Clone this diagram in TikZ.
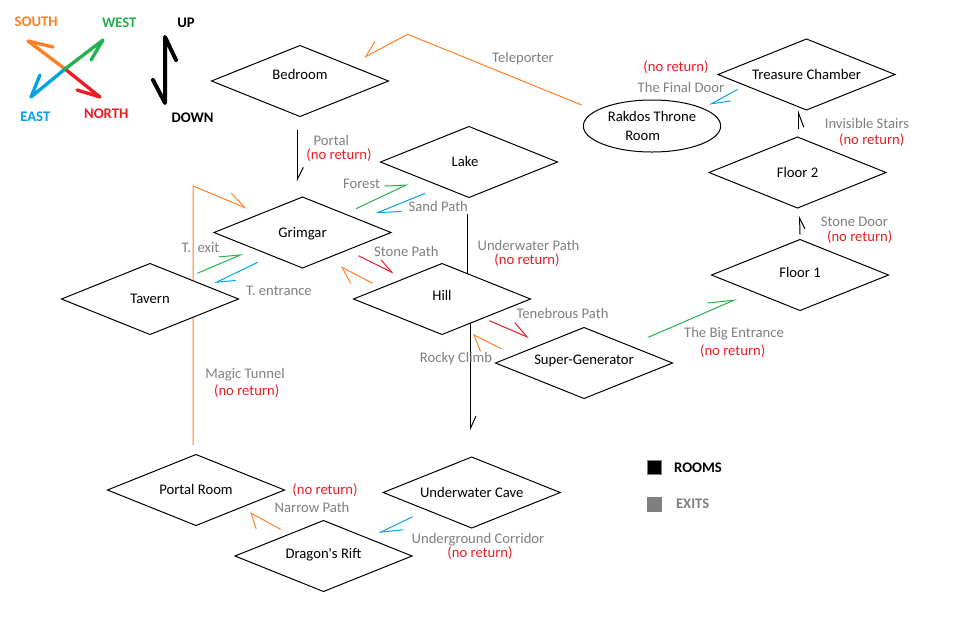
\documentclass[tikz,border=0pt]{standalone}
\usepackage{fontspec}
\setmainfont{Carlito}
% same face without the TeX ligature mapping, for a straight apostrophe
\newfontfamily\plainfont{Carlito}
\usetikzlibrary{shapes.geometric,arrows.meta}
\definecolor{exitorange}{HTML}{FF7F27}
\definecolor{exitgreen}{HTML}{22B14C}
\definecolor{exitblue}{HTML}{00A2E8}
\definecolor{exitred}{HTML}{ED1C24}
\definecolor{exitgray}{HTML}{7F7F7F}
\pgfdeclarelayer{background}
\pgfsetlayers{background,main}
\begin{document}
\begin{tikzpicture}[x=0.75pt,y=-0.75pt,
  font=\fontsize{11}{13.75}\selectfont,
  room/.style={shape=diamond, draw, fill=white, line width=0.75pt, aspect=2.5,
    inner sep=1pt, outer sep=0pt, minimum width=132.75pt, minimum height=53.25pt,
    text height=7pt, text depth=0pt},
  hall/.style={shape=ellipse, draw, fill=white, line width=0.75pt, inner sep=0pt,
    minimum width=103pt, minimum height=39pt, align=center},
  exitlbl/.style={text=exitgray, inner sep=0pt, text height=7pt, text depth=0pt},
  noret/.style={text=exitred, inner sep=0pt, text height=7pt, text depth=0pt},
  link/.style={line width=0.75pt},
  barbL/.style 2 args={-{Straight Barb[harpoon,length=#1,width=#2]}},
  barbR/.style 2 args={-{Straight Barb[harpoon,swap,length=#1,width=#2]}},
  compass/.style={line width=2.5pt, line cap=round, line join=round},
  keytext/.style={font=\fontsize{11}{13}\selectfont\bfseries, inner sep=0pt,
    text height=7pt, text depth=0pt},
]
\useasboundingbox (0,0) rectangle (959,626);

% ---------- compass and up/down key ----------
\draw[compass, exitorange] (65,69) -- (28,41) -- (53,47);
\draw[compass, exitred] (65,69) -- (100,97) -- (77,90);
\draw[compass, exitblue] (65,69) -- (31,97) -- (40,75);
\draw[compass, exitgreen] (65,69) -- (103,40) -- (91,60);
\draw[compass, line width=3pt] (176,60) -- (165,37) -- (165,103) -- (153,80);
\node[keytext, text=exitorange] (south) at (36.2,21.7) {SOUTH};
\node[keytext, text=exitgreen] (west) at (119.2,23.3) {WEST};
\node[keytext] (up) at (186,23.3) {UP};
\node[keytext, text=exitblue] (east) at (35.3,117.3) {EAST};
\node[keytext, text=exitred] (north) at (106.2,114.3) {NORTH};
\node[keytext] (down) at (192.5,118.3) {DOWN};

% ---------- rooms ----------
\node[room] (bedroom) at (300,81) {\raisebox{5pt}{Bedroom}};
\node[room] (lake) at (469,162) {\hspace*{-6pt}Lake};
\node[room] (grimgar) at (302.5,232.5) {Grimgar};
\node[room] (tavern) at (150,299) {Tavern};
\node[room] (hill) at (442,299) {\raisebox{2.5pt}{Hill}};
\node[room] (supergen) at (584,363) {\raisebox{2.5pt}{Super-Generator}};
\node[room] (floor1) at (800,275) {\raisebox{2pt}{Floor 1}};
\node[room] (floor2) at (797.5,172.5) {Floor 2};
\node[room] (treasure) at (806.5,74.5) {Treasure Chamber};
\node[hall] (rakdos) at (652,126) {Rakdos Throne\\Room\hspace*{14pt}};
\node[room] (portalroom) at (196,490) {Portal Room};
\node[room] (uwcave) at (471.7,492.5) {Underwater Cave};
\node[room] (rift) at (323.5,556) {\raisebox{2pt}{Dragon{\plainfont'}s Rift}};

% ---------- exits ----------
\begin{pgfonlayer}{background}
  % Teleporter: Rakdos Throne Room -> Bedroom
  \coordinate (telS) at (581.7,105);
  \coordinate (telK) at (407.7,34.3);
  \coordinate (telT) at (364.3,57.3);
  \draw[link, exitorange, barbR={11.3pt}{13.7pt}] (telS) -- (telK) -- (telT);
  % Portal: Bedroom -> Grimgar
  \coordinate (porS) at (297.3,130);
  \coordinate (porT) at (297.3,181.5);
  \draw[link, barbL={9pt}{9pt}] (porS) -- (porT);
  % Forest / Sand Path: Grimgar <-> Lake
  \coordinate (forS) at (356,208.7);
  \coordinate (forT) at (408.3,184);
  \draw[link, exitgreen, barbL={15pt}{12.5pt}] (forS) -- (forT);
  \coordinate (sanS) at (425,193.3);
  \coordinate (sanT) at (375,213.7);
  \draw[link, exitblue, barbL={17pt}{12pt}] (sanS) -- (sanT);
  % T. exit / T. entrance: Tavern <-> Grimgar
  \coordinate (texS) at (197.3,273.3);
  \coordinate (texT) at (243.3,253.7);
  \draw[link, exitgreen, barbL={15.5pt}{10pt}] (texS) -- (texT);
  \coordinate (tenS) at (257.7,262.3);
  \coordinate (tenT) at (214.3,283.3);
  \draw[link, exitblue, barbL={13.4pt}{10.2pt}] (tenS) -- (tenT);
  % Magic Tunnel: Portal Room -> Tavern -> Grimgar
  \coordinate (magS) at (193,445);
  \coordinate (magK) at (193,186);
  \coordinate (magT) at (246.7,208.3);
  \draw[link, exitorange, barbL={13.4pt}{12.2pt}] (magS) -- (magK) -- (magT);
  % Stone Path: Grimgar <-> Hill
  \coordinate (stoS) at (358.3,255.7);
  \coordinate (stoT) at (394,273.3);
  \draw[link, exitred, barbL={11.3pt}{9.5pt}] (stoS) -- (stoT);
  \coordinate (hgrS) at (372.7,283.3);
  \coordinate (hgrT) at (340.7,266.7);
  \draw[link, exitorange, barbL={11.3pt}{15.3pt}] (hgrS) -- (hgrT);
  % Underwater Path: Lake -> Underwater Cave
  \coordinate (uwpS) at (467.5,214);
  \coordinate (uwpT) at (470.7,430);
  \draw[link, barbL={8.8pt}{8pt}] (uwpS) -- (467.5,299) -- (470.7,299) -- (uwpT);
  % Tenebrous Path / Rocky Climb: Hill <-> Super-Generator
  \coordinate (tebS) at (489.3,320.7);
  \coordinate (tebT) at (529,337.7);
  \draw[link, exitred, barbL={12.8pt}{12.6pt}] (tebS) -- (tebT);
  \coordinate (rocS) at (501.7,349);
  \coordinate (rocT) at (472.7,334.3);
  \draw[link, exitorange, barbL={10pt}{17.4pt}] (rocS) -- (rocT);
  % The Big Entrance: Super-Generator -> Floor 1
  \coordinate (bigS) at (648.3,337.3);
  \coordinate (bigT) at (736.7,299);
  \draw[link, exitgreen, barbL={18.8pt}{11.9pt}] (bigS) -- (bigT);
  % Stone Door: Floor 1 -> Floor 2
  \coordinate (sdoS) at (800,234.3);
  \coordinate (sdoT) at (799.5,216);
  \draw[link, barbR={8pt}{7.5pt}] (sdoS) -- (sdoT);
  % Invisible Stairs: Floor 2 -> Treasure Chamber
  \coordinate (invS) at (798.7,129.3);
  \coordinate (invT) at (798.7,110.7);
  \draw[link, barbR={10.2pt}{7.5pt}] (invS) -- (invT);
  % The Final Door: Treasure Chamber -> Rakdos Throne Room
  \coordinate (finS) at (737.7,89.3);
  \coordinate (finT) at (709.3,105);
  \draw[link, exitblue, barbL={13.4pt}{10.2pt}] (finS) -- (finT);
  % Narrow Path: Dragon's Rift -> Portal Room
  \coordinate (narS) at (280.7,529.3);
  \coordinate (narT) at (250,512.7);
  \draw[link, exitorange, barbL={8.9pt}{17pt}] (narS) -- (narT);
  % Underground Corridor: Underwater Cave -> Dragon's Rift
  \coordinate (ugcS) at (412.7,516.7);
  \coordinate (ugcT) at (378.3,533.3);
  \draw[link, exitblue, barbL={15.9pt}{11.6pt}] (ugcS) -- (ugcT);
\end{pgfonlayer}

% ---------- exit labels ----------
\node[exitlbl] (ltel) at (523,57.5) {Teleporter};
\node[exitlbl] (lpor) at (331.3,140.7) {Portal};
\node[noret] (npor) at (339,155) {(no return)};
\node[exitlbl] (lfor) at (361.5,184.3) {Forest};
\node[exitlbl] (lsan) at (438.3,207.3) {Sand Path};
\node[exitlbl] (ltex) at (200.5,247.7) {T.\ \ exit};
\node[exitlbl] (lten) at (279,290.7) {T. entrance};
\node[exitlbl] (lsto) at (406.3,251.7) {Stone Path};
\node[exitlbl] (luwp) at (528.5,245.7) {Underwater Path};
\node[noret] (nuwp) at (527,260) {(no return)};
\node[exitlbl] (lteb) at (562.5,314) {Tenebrous Path};
\node[exitlbl] (lroc) at (456,357.7) {Rocky Climb};
\node[exitlbl] (lmag) at (245,374) {Magic Tunnel};
\node[noret] (nmag) at (246.7,390.7) {(no return)};
\node[exitlbl] (lbig) at (734,333.3) {The Big Entrance};
\node[noret] (nbig) at (732.7,351) {(no return)};
\node[exitlbl] (lsdo) at (854.5,221.7) {Stone Door};
\node[noret] (nsdo) at (859.7,236.7) {(no return)};
\node[exitlbl] (linv) at (867,124.3) {Invisible Stairs};
\node[noret] (ninv) at (871.7,140) {(no return)};
\node[exitlbl] (lfin) at (681,87.7) {The Final Door};
\node[noret] (nfin) at (676,66.7) {(no return)};
\node[exitlbl] (lnar) at (312,507.7) {Narrow Path};
\node[noret] (nnar) at (325,490) {(no return)};
\node[exitlbl] (lugc) at (478,538.7) {Underground Corridor};
\node[noret] (nugc) at (480,553.3) {(no return)};

% ---------- legend ----------
\node[draw=exitgray, fill=black, line width=0.75pt, inner sep=0pt, minimum size=10.5pt] (roomkey) at (654.8,467.5) {};
\node[fill=exitgray, inner sep=0pt, minimum size=11.25pt] (exitkey) at (654.8,504.5) {};
\node[keytext] (roomstxt) at (698,468.3) {ROOMS};
\node[keytext, text=exitgray] (exitstxt) at (692.7,503.8) {EXITS};
\end{tikzpicture}
\end{document}
